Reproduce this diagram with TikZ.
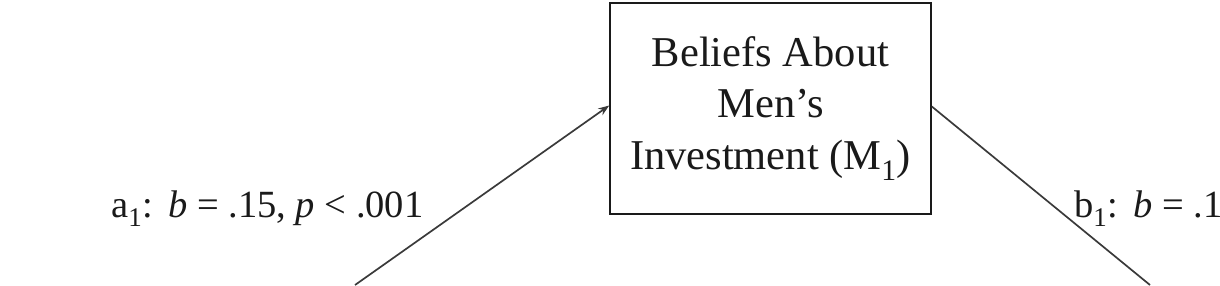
\documentclass[tikz,border=0pt]{standalone}
\usepackage{fontspec}
\setmainfont{Liberation Serif}
\usepackage{xcolor}
\usetikzlibrary{positioning,arrows.meta,calc}
\definecolor{ink}{HTML}{1A1A1A}
\definecolor{lineGray}{HTML}{3A3A3A}
\newcommand{\pathlabel}[1]{\fontsize{38.5}{44}\selectfont #1}

\begin{document}
\begin{tikzpicture}[x=1pt,y=-1pt,
    medbox/.style={draw=ink, line width=1.6pt, minimum width=321pt, minimum height=211pt,
                   align=center, inner sep=0pt, text=ink, font=\fontsize{42.5}{51.5}\selectfont},
    pathline/.style={draw=lineGray, line width=1.7pt},
    coeff/.style={text=ink, inner sep=0pt, anchor=base west}]
  \useasboundingbox (0,0) rectangle (1220,285);
  \node[medbox] (m1) at (770.5,108.5) {Beliefs About\\Men's\\Investment (M\textsubscript{1})};
  \coordinate (xin) at (355,285);
  \coordinate (yout) at (1150,285);
  \draw[pathline, -{Stealth[length=11pt,width=8pt]}] (xin) -- ($(m1.west)+(0,-3)$);
  \draw[pathline] ($(m1.east)+(0,-2)$) -- (yout);
  \node[coeff] (a1) at (111,217) {\pathlabel{a\textsubscript{1}:\hspace{0.4em}\textit{b} = .15, \textit{p} < .001}};
  \node[coeff] (b1) at (1074,217) {\pathlabel{b\textsubscript{1}:\hspace{0.4em}\textit{b} = .1}};
\end{tikzpicture}
\end{document}
